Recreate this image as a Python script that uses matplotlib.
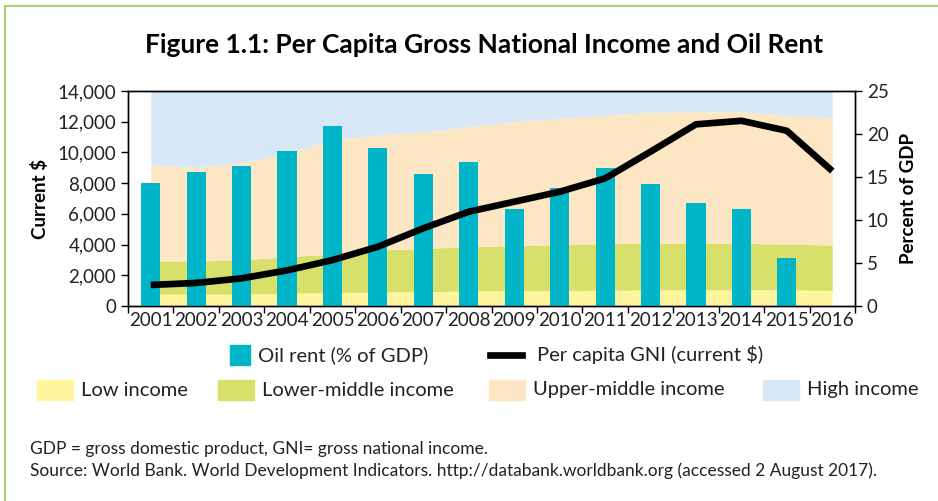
import numpy as np
import matplotlib
matplotlib.use('Agg')
import matplotlib.pyplot as plt
from matplotlib.patches import Rectangle
from matplotlib.lines import Line2D

plt.rcParams['font.family'] = ['Lato', 'DejaVu Sans']

years = [str(y) for y in range(2001, 2017)]

# oil rent, % of GDP (right axis); 2016 not reported
oil_rent = [14.3, 15.6, 16.3, 18.0, 20.9, 18.4, 15.3, 16.8, 11.3, 13.7, 16.0, 14.2, 12.0, 11.3, 5.6, 0.0]

# per capita GNI, current $ (left axis)
gni = [1370, 1500, 1800, 2320, 2990, 3860, 5060, 6140, 6790, 7440, 8310, 10050, 11830, 12060, 11410, 8790]

# income group thresholds (upper bound of each band, current $)
low_upper = [760, 765, 770, 825, 875, 905, 935, 975, 995, 1005, 1025, 1045, 1045, 1045, 1045, 1025]
lmid_upper = [2930, 2930, 2990, 3210, 3385, 3645, 3750, 3860, 3930, 3975, 4080, 4080, 4085, 4080, 4030, 3970]
umid_upper = [9180, 9030, 9330, 9940, 10800, 11130, 11350, 11670, 12000, 12220, 12430, 12610, 12650, 12650, 12430, 12220]
high_upper = [14000] * 16

c_low = '#fff59e'
c_lmid = '#d8e06c'
c_umid = '#fde6c4'
c_high = '#d7e7f5'
c_bar = '#00b5c8'

W, H = 938, 501
fig = plt.figure(figsize=(W / 100, H / 100), dpi=100)

# frame lines (top and left, light green)
fig.add_artist(Line2D([5 / W, 5 / W], [0, 1 - 6 / H], color='#a9d46d', lw=1.5))
fig.add_artist(Line2D([5 / W, 1], [1 - 6 / H, 1 - 6 / H], color='#a9d46d', lw=1.5))

ax = fig.add_axes([128 / W, 1 - 306 / H, (855 - 128) / W, (306 - 91) / H])
x = np.arange(len(years))

ax.fill_between(x, 0, low_upper, color=c_low, lw=0, zorder=1)
ax.fill_between(x, low_upper, lmid_upper, color=c_lmid, lw=0, zorder=1)
ax.fill_between(x, lmid_upper, umid_upper, color=c_umid, lw=0, zorder=1)
ax.fill_between(x, umid_upper, high_upper, color=c_high, lw=0, zorder=1)

ax.set_xlim(-0.5, 15.5)
ax.set_ylim(0, 14000)
ax.set_yticks(range(0, 14001, 2000))
ax.set_yticklabels([f'{v:,}' for v in range(0, 14001, 2000)])
ax.set_xticks(np.arange(-0.5, 16, 1))
ax.set_xticklabels([])
ax.set_xticks(x, minor=True)
ax.set_xticklabels(years, minor=True)
ax.tick_params(axis='x', which='minor', length=0, pad=4, labelsize=13.5, labelcolor='#222222')
ax.tick_params(axis='x', which='major', length=5, direction='out', width=1)
ax.tick_params(axis='y', length=5, width=1, labelsize=13.5, labelcolor='#222222')
ax.set_ylabel('Current $', fontsize=13.5, fontweight='bold', labelpad=6)

ax2 = ax.twinx()
ax2.bar(x, oil_rent, width=0.42, color=c_bar, zorder=2)
ax2.set_ylim(0, 25)
ax2.set_yticks(range(0, 26, 5))
ax2.tick_params(axis='y', length=5, width=1, labelsize=13.5, labelcolor='#222222')
ax2.set_ylabel('Percent of GDP', fontsize=13.5, fontweight='bold', labelpad=8)

# GNI line on top of the bars
ax3 = ax.twinx()
ax3.plot(x, gni, color='black', lw=4.8, solid_capstyle='butt', zorder=3)
ax3.set_ylim(0, 14000)
ax3.axis('off')

for a in (ax, ax2):
    for s in a.spines.values():
        s.set_linewidth(1)

fig.text(484 / W, 1 - 45 / H, 'Figure 1.1: Per Capita Gross National Income and Oil Rent',
         ha='center', va='center', fontsize=19, fontweight='bold')


def legend_patch(x0, y0, w, h, color, label):
    fig.add_artist(Rectangle((x0 / W, 1 - (y0 + h / 2) / H), w / W, h / H,
                             color=color, transform=fig.transFigure))
    fig.text((x0 + w + 8) / W, 1 - y0 / H, label, ha='left', va='center',
             fontsize=14.5, color='#222222')


# legend row 1
legend_patch(230, 355, 20, 20, c_bar, 'Oil rent (% of GDP)')
fig.add_artist(Line2D([490 / W, 522 / W], [1 - 355 / H, 1 - 355 / H], color='black', lw=4.8))
fig.text(537 / W, 1 - 355 / H, 'Per capita GNI (current $)', ha='left', va='center',
         fontsize=14.5, color='#222222')

# legend row 2
legend_patch(37, 390, 36, 20, c_low, 'Low income')
legend_patch(218, 390, 36, 20, c_lmid, 'Lower-middle income')
legend_patch(489, 390, 36, 20, c_umid, 'Upper-middle income')
legend_patch(763, 390, 36, 20, c_high, 'High income')

fig.text(30 / W, 1 - 449 / H, 'GDP = gross domestic product, GNI= gross national income.',
         ha='left', va='center', fontsize=12.5, color='#222222')
fig.text(30 / W, 1 - 471 / H,
         'Source: World Bank. World Development Indicators. http://databank.worldbank.org (accessed 2 August 2017).',
         ha='left', va='center', fontsize=12.5, color='#222222')

fig.savefig('out.png', dpi=100)
